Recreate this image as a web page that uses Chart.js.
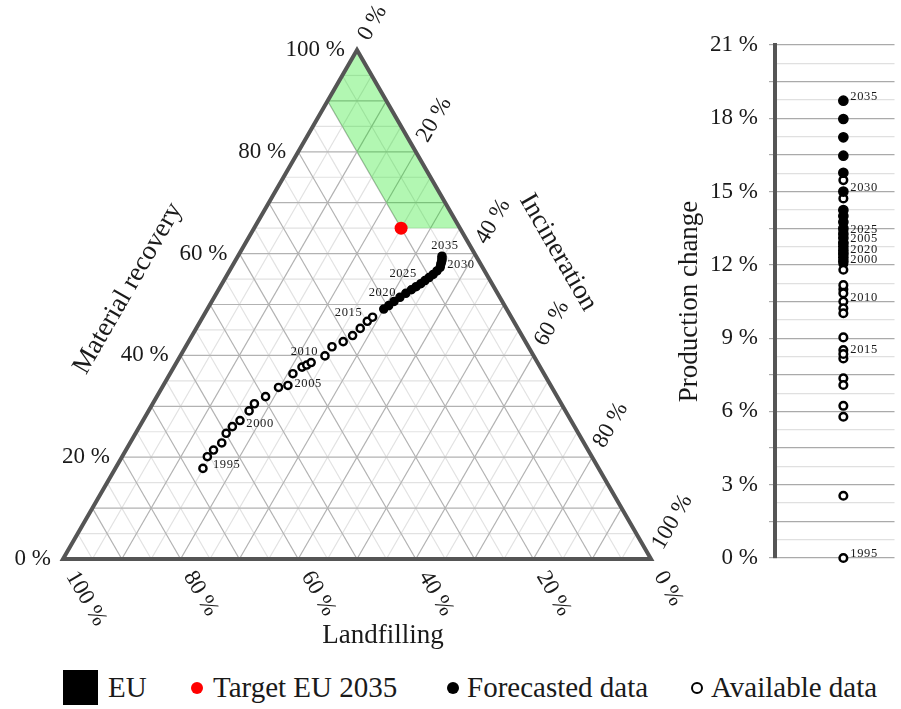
<!DOCTYPE html>
<html>
<head>
<meta charset="utf-8">
<script src="https://cdn.jsdelivr.net/npm/chart.js@4.4.1/dist/chart.umd.min.js"></script>
<style>
  html, body { margin: 0; padding: 0; background: #fff; }
  body { width: 901px; height: 709px; position: relative; overflow: hidden;
         font-family: "Liberation Serif", serif; color: #1a1a1a; }
  #ternary { position: absolute; left: 0; top: 0; }
  #strip { position: absolute; left: 660px; top: 0; }
  .lg { position: absolute; }
  .txt { position: absolute; top: 670px; font-size: 29px; line-height: 34px; white-space: nowrap; }
  .dot { position: absolute; border-radius: 50%; box-sizing: border-box; }
</style>
</head>
<body>
<canvas id="ternary" width="700" height="660"></canvas>
<canvas id="strip" width="241" height="600"></canvas>

<div class="lg" style="left:63px;top:670px;width:35px;height:35px;background:#000"></div>
<div class="txt" style="left:108px">EU</div>
<div class="dot" style="left:191px;top:682px;width:12px;height:12px;background:#ff0000"></div>
<div class="txt" style="left:213px">Target EU 2035</div>
<div class="dot" style="left:447px;top:682px;width:12px;height:12px;background:#000"></div>
<div class="txt" style="left:467px">Forecasted data</div>
<div class="dot" style="left:691px;top:682px;width:12px;height:12px;border:2.5px solid #000;background:#fff"></div>
<div class="txt" style="left:711px">Available data</div>

<script>
// ---------------- data ----------------
const years = [1995, 1996, 1997, 1998, 1999, 2000, 2001, 2002, 2003, 2004,
               2005, 2006, 2007, 2008, 2009, 2010, 2011, 2012, 2013, 2014,
               2015, 2016, 2017, 2018, 2019, 2020, 2021, 2022, 2023, 2024,
               2025, 2026, 2027, 2028, 2029, 2030, 2031, 2032, 2033, 2034, 2035];
const lastAvailableYear = 2017;

// shares of treatment (%)
const materialRecovery = [17.8, 20.1, 21.4, 22.8, 24.7, 26.0, 27.2, 29.1, 30.5, 31.9,
                          33.7, 34.1, 36.4, 37.7, 38.1, 38.6, 39.9, 41.7, 42.7, 43.9,
                          45.3, 46.7, 47.5, 49.1, 49.8, 50.6, 51.4, 52.2, 52.9, 53.5,
                          54.1, 54.7, 55.3, 55.9, 56.6, 57.3, 57.9, 58.3, 58.7, 59.1, 59.5];
const incineration = [14.9, 14.5, 14.9, 15.6, 15.4, 15.8, 16.5, 17.1, 17.3, 18.5,
                      19.8, 21.2, 20.9, 21.8, 22.4, 22.9, 24.6, 24.9, 26.3, 27.3,
                      27.9, 28.4, 28.9, 30.0, 30.5, 31.0, 31.6, 32.2, 32.8, 33.3,
                      33.8, 34.2, 34.6, 35.0, 35.3, 35.5, 35.3, 35.2, 35.1, 34.9, 34.7];
const landfilling = [67.3, 65.4, 63.7, 61.6, 59.9, 58.2, 56.3, 53.8, 52.2, 49.6,
                     46.5, 44.7, 42.7, 40.5, 39.5, 38.5, 35.5, 33.4, 31.0, 28.8,
                     26.8, 24.9, 23.6, 20.9, 19.7, 18.4, 17.0, 15.6, 14.3, 13.2,
                     12.1, 11.1, 10.1, 9.1, 8.1, 7.2, 6.8, 6.5, 6.2, 6.0, 5.8];

// production change against 1995 (%)
const productionChange = [0.0, 2.55, 5.78, 7.36, 9.03, 12.05, 11.8, 11.0, 12.5, 13.4,
                          12.89, 14.72, 15.47, 11.17, 10.84, 10.5, 10.22, 10.02, 8.51, 8.17,
                          8.35, 7.08, 6.23, 12.15, 12.3, 12.44, 12.6, 12.75, 12.9, 13.1,
                          13.26, 13.5, 13.75, 14.0, 14.24, 15.0, 15.77, 16.47, 17.22, 17.97, 18.72];

// EU 2035 target: landfilling 10 %, material recovery 65 %
const targetMaterial = [65];
const targetIncineration = [25];
// target zone corners (material recovery, incineration)
const zoneMaterial = [100, 90, 65, 65];
const zoneIncineration = [0, 0, 25, 35];

const ternaryTicks = [0, 20, 40, 60, 80, 100];
const yTickLabels = [0, 3, 6, 9, 12, 15, 18, 21];
const labelledYears = [1995, 2000, 2005, 2010, 2015, 2020, 2025, 2030, 2035];

// ---------------- helpers ----------------
const SQ = Math.sqrt(3) / 2;
const toPlane = (m, i) => ({ x: i + m / 2, y: m * SQ });
const FONT = '"Liberation Serif", serif';
const INK = '#1a1a1a';
const TAG_FONT = '12.5px ' + FONT;

const isAvail = (y) => y <= lastAvailableYear;
const idxAvail = years.map((y, k) => k).filter(k => isAvail(years[k]));
const idxFcst = years.map((y, k) => k).filter(k => !isAvail(years[k]));

// where the small year tags sit next to their point (px)
const ternaryTagOffsets = {
  1995: [10, -4, 'left'], 2000: [14, -3, 'left'], 2005: [16, -4, 'left'],
  2010: [7, -11, 'right'], 2015: [2, -16, 'right'], 2020: [2, -9, 'right'],
  2025: [-4, -10, 'right'], 2030: [7, -3, 'left'], 2035: [3, -10, 'center']
};

// ============================================
// TERNARY FRAME, GRID AND LABELS
// ============================================

const ternaryFrame = {
  id: 'ternaryFrame',
  beforeDatasetsDraw(chart) {
    const { ctx, scales: { x, y } } = chart;
    const P = (m, i) => [x.getPixelForValue(i + m / 2), y.getPixelForValue(m * SQ)];
    const seg = (a, b) => { ctx.beginPath(); ctx.moveTo(a[0], a[1]); ctx.lineTo(b[0], b[1]); ctx.stroke(); };
    ctx.save();
    ctx.lineWidth = 1.2;
    [[5, '#e2e2e2'], [10, '#b2b2b2']].forEach(([step, col]) => {
      ctx.strokeStyle = col;
      for (let k = step; k < 100; k += 10) {
        seg(P(k, 0), P(k, 100 - k));          // material recovery = k
        seg(P(0, k), P(100 - k, k));          // incineration = k
        seg(P(0, 100 - k), P(100 - k, 0));    // landfilling = k
      }
    });
    ctx.restore();
  },
  afterDatasetsDraw(chart) {
    const { ctx, scales: { x, y } } = chart;
    const P = (m, i) => [x.getPixelForValue(i + m / 2), y.getPixelForValue(m * SQ)];
    const a = P(0, 0), b = P(0, 100), c = P(100, 0);
    ctx.save();
    ctx.strokeStyle = '#555';
    ctx.lineWidth = 4;
    ctx.lineJoin = 'miter';
    ctx.beginPath();
    ctx.moveTo(a[0], a[1]); ctx.lineTo(b[0], b[1]); ctx.lineTo(c[0], c[1]); ctx.closePath();
    ctx.stroke();

    // year tags
    ctx.fillStyle = INK;
    ctx.font = TAG_FONT;
    ctx.letterSpacing = '0.6px';
    ctx.textBaseline = 'middle';
    labelledYears.forEach(yr => {
      const k = years.indexOf(yr);
      const p = P(materialRecovery[k], incineration[k]);
      const [dx, dy, al] = ternaryTagOffsets[yr];
      ctx.textAlign = al;
      ctx.fillText(String(yr), p[0] + dx, p[1] + dy);
    });
    ctx.restore();
  },
  afterDraw(chart) {
    const { ctx, scales: { x, y } } = chart;
    const P = (m, i) => [x.getPixelForValue(i + m / 2), y.getPixelForValue(m * SQ)];
    const rot = (p, ang, dx, dy, txt, align) => {
      ctx.save();
      ctx.translate(p[0] + dx, p[1] + dy);
      ctx.rotate(ang * Math.PI / 180);
      ctx.textAlign = align;
      ctx.fillText(txt, 0, 0);
      ctx.restore();
    };
    ctx.save();
    ctx.fillStyle = INK;
    ctx.textBaseline = 'middle';
    ctx.font = '23px ' + FONT;
    ternaryTicks.forEach(t => {
      // material recovery, left edge
      const l = P(t, 0);
      ctx.textAlign = 'right';
      ctx.fillText(t + ' %', l[0] - 12, l[1]);
      // incineration, right edge
      const r = P(100 - t, t);
      ctx.save();
      ctx.translate(r[0], r[1]);
      ctx.rotate(-Math.PI / 3);
      ctx.textAlign = 'left';
      ctx.fillText(t + ' %', 13, 0);
      ctx.restore();
      // landfilling, bottom edge
      const bt = P(0, 100 - t);
      ctx.save();
      ctx.translate(bt[0], bt[1]);
      ctx.rotate(Math.PI / 3);
      ctx.textAlign = 'left';
      ctx.fillText(t + ' %', 16, 0);
      ctx.restore();
    });
    ctx.font = '27px ' + FONT;
    rot(P(50, 0), -60, -82, -16, 'Material recovery', 'center');
    rot(P(50, 50), 60, 54, -52, 'Incineration', 'center');
    rot(P(0, 50), 0, 26, 77, 'Landfilling', 'center');
    ctx.restore();
  }
};

new Chart(document.getElementById('ternary'), {
  type: 'scatter',
  data: {
    datasets: [
      {
        label: 'Target EU 2035',
        data: targetMaterial.map((m, k) => toPlane(m, targetIncineration[k])),
        pointRadius: 6.5,
        backgroundColor: '#ff0000',
        borderColor: '#ff0000',
        borderWidth: 0,
        clip: false,
        order: 0
      },
      {
        label: 'Forecasted data',
        data: idxFcst.map(k => toPlane(materialRecovery[k], incineration[k])),
        pointRadius: 4,
        backgroundColor: '#000',
        borderColor: '#000',
        borderWidth: 1.5,
        clip: false,
        order: 1
      },
      {
        label: 'Available data',
        data: idxAvail.map(k => toPlane(materialRecovery[k], incineration[k])),
        pointRadius: 3.6,
        backgroundColor: '#fff',
        borderColor: '#000',
        borderWidth: 2.4,
        clip: false,
        order: 2
      },
      {
        label: 'EU',
        data: zoneMaterial.map((m, k) => toPlane(m, zoneIncineration[k])),
        showLine: true,
        fill: 'shape',
        backgroundColor: 'rgba(0, 230, 0, 0.3)',
        borderColor: 'transparent',
        borderWidth: 0,
        pointRadius: 0,
        tension: 0,
        order: 3
      }
    ]
  },
  options: {
    responsive: false,
    animation: false,
    layout: { padding: { left: 63, top: 50, right: 49, bottom: 101 } },
    scales: {
      x: { type: 'linear', display: false, min: 0, max: 100 },
      y: { type: 'linear', display: false, min: 0, max: 100 * SQ }
    },
    plugins: {
      legend: { display: false },
      tooltip: { enabled: false }
    }
  },
  plugins: [ternaryFrame]
});

// ============================================
// PRODUCTION CHANGE STRIP
// ============================================

const stripTags = {
  id: 'stripTags',
  afterDatasetsDraw(chart) {
    const { ctx, scales: { x, y } } = chart;
    ctx.save();
    ctx.fillStyle = INK;
    ctx.font = TAG_FONT;
    ctx.letterSpacing = '0.6px';
    ctx.textAlign = 'left';
    ctx.textBaseline = 'middle';
    labelledYears.forEach(yr => {
      const k = years.indexOf(yr);
      ctx.fillText(String(yr), x.getPixelForValue(0) + 7, y.getPixelForValue(productionChange[k]) - 4);
    });
    ctx.restore();
  }
};

const gridSteps = [];
for (let v = 0; v <= 21; v += 0.75) gridSteps.push(v);

new Chart(document.getElementById('strip'), {
  type: 'scatter',
  data: {
    datasets: [
      {
        label: 'Forecasted data',
        data: idxFcst.map(k => ({ x: 0, y: productionChange[k] })),
        pointRadius: 4.6,
        backgroundColor: '#000',
        borderColor: '#000',
        borderWidth: 1.5,
        clip: false,
        order: 0
      },
      {
        label: 'Available data',
        data: idxAvail.map(k => ({ x: 0, y: productionChange[k] })),
        pointRadius: 3.8,
        backgroundColor: '#fff',
        borderColor: '#000',
        borderWidth: 2.5,
        clip: false,
        order: 1
      }
    ]
  },
  options: {
    responsive: false,
    animation: false,
    layout: { padding: { left: 0, right: 0, top: 45, bottom: 42 } },
    scales: {
      x: { type: 'linear', display: false, min: -0.572, max: 0.428 },
      y: {
        type: 'linear',
        min: 0,
        max: 21,
        afterFit: (s) => { s.width = 115; },
        afterBuildTicks: (s) => { s.ticks = gridSteps.map(v => ({ value: v })); },
        ticks: {
          autoSkip: false,
          padding: 11,
          color: INK,
          font: { family: FONT, size: 23 },
          callback: (v) => yTickLabels.includes(v) ? v + ' %' : ''
        },
        grid: {
          lineWidth: 1.2,
          tickLength: 6,
          color: (c) => (c.tick && c.tick.value % 1.5 === 0) ? '#aaaaaa' : '#e0e0e0',
          tickColor: (c) => (c.tick && c.tick.value % 1.5 === 0) ? '#aaaaaa' : 'transparent'
        },
        border: { color: '#555', width: 4 },
        title: {
          display: true,
          text: 'Production change',
          color: INK,
          font: { family: FONT, size: 27 },
          padding: { top: 14, bottom: 0 }
        }
      }
    },
    plugins: {
      legend: { display: false },
      tooltip: { enabled: false }
    }
  },
  plugins: [stripTags]
});
</script>
</body>
</html>
